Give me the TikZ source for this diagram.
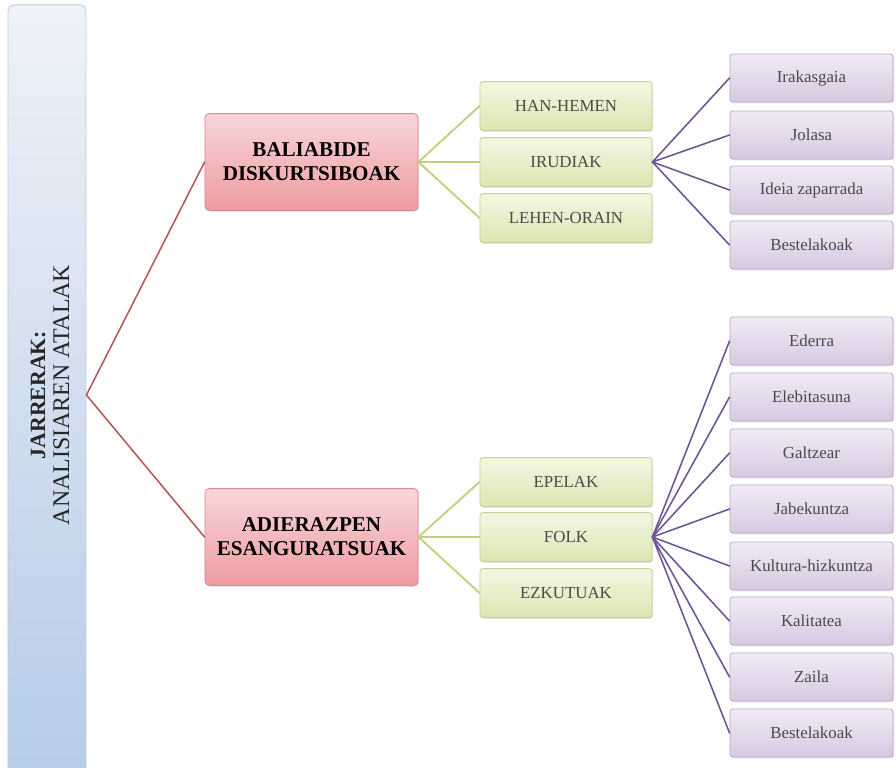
\documentclass[tikz,border=0pt]{standalone}
\usepackage{fontspec}
\setmainfont{Liberation Serif}
\usetikzlibrary{shadows}

\definecolor{barTop}{HTML}{EEF2F9}
\definecolor{barBot}{HTML}{B4CAE6}
\definecolor{barEdge}{HTML}{C4CCD8}
\definecolor{redTop}{HTML}{F8D6D8}
\definecolor{redBot}{HTML}{EE9CA2}
\definecolor{redEdge}{HTML}{D48E94}
\definecolor{redLine}{HTML}{B4585A}
\definecolor{grnTop}{HTML}{F3F7E2}
\definecolor{grnBot}{HTML}{DCE7B2}
\definecolor{grnEdge}{HTML}{C6D296}
\definecolor{grnLine}{HTML}{C4CE78}
\definecolor{prpTop}{HTML}{F1EBF5}
\definecolor{prpBot}{HTML}{D6C9E1}
\definecolor{prpEdge}{HTML}{B9AAC9}
\definecolor{prpLine}{HTML}{6E5492}
\definecolor{txtGray}{HTML}{4A4A4A}

\tikzset{
  boxshadow/.style={drop shadow={shadow xshift=0.8pt,shadow yshift=-1pt,opacity=0.22}},
  barbox/.style={draw=barEdge, line width=0.6pt, top color=barTop, bottom color=barBot,
    rounded corners=4pt, minimum width=1.95cm, minimum height=20cm},
  mainbox/.style={draw=redEdge, line width=0.6pt, top color=redTop, bottom color=redBot,
    rounded corners=3pt, minimum width=5.325cm, minimum height=2.42cm, align=center,
    font=\fontsize{15}{17}\selectfont\bfseries, boxshadow},
  subbox/.style={draw=grnEdge, line width=0.6pt, top color=grnTop, bottom color=grnBot,
    rounded corners=2pt, minimum width=4.3cm, minimum height=1.22cm,
    font=\fontsize{12}{14}\selectfont, text=txtGray, boxshadow},
  leafbox/.style={draw=prpEdge, line width=0.6pt, top color=prpTop, bottom color=prpBot,
    rounded corners=2pt, minimum width=4.075cm, minimum height=1.2cm,
    font=\fontsize{12}{14}\selectfont, text=txtGray, boxshadow},
  redline/.style={draw=redLine, line width=1.1pt},
  grnline/.style={draw=grnLine, line width=1.3pt},
  prpline/.style={draw=prpLine, line width=1.1pt}
}

\begin{document}
\begin{tikzpicture}[x=0.025cm,y=-0.025cm,line cap=round,line join=round]
  \useasboundingbox (0,0) rectangle (896,768);
  \fill[white] (0,0) rectangle (896,768);

  % left title bar
  \node[barbox] (bar) at (47,405) {};
  \node[rotate=90, align=center, inner sep=0pt, font=\fontsize{17}{17}\selectfont, text=black!85] (title) at (50,395)
    {\textbf{\fontsize{15.5}{17}\selectfont JARRERAK:}\\
     ANALISIAREN ATALAK};
  \coordinate (root) at (bar.east |- title.center);

  % main branches
  \node[mainbox] (bal) at (311.5,162) {BALIABIDE\\DISKURTSIBOAK};
  \node[mainbox] (adi) at (311.5,537) {ADIERAZPEN\\ESANGURATSUAK};
  \draw[redline] (root) -- (bal.west);
  \draw[redline] (root) -- (adi.west);

  % second level
  \foreach \n/\y/\t/\p in {hh/106/HAN-HEMEN/bal, iru/162/IRUDIAK/bal, lo/218/LEHEN-ORAIN/bal,
                          epe/482/EPELAK/adi, folk/537/FOLK/adi, ezk/593/EZKUTUAK/adi} {
    \node[subbox] (\n) at (566,\y) {\t};
    \draw[grnline] (\p.east) -- (\n.west);
  }

  % leaves
  \foreach \n/\y/\t in {p1/78/Irakasgaia, p2/135/Jolasa, p3/190/Ideia zaparrada, p4/245/Bestelakoak} {
    \node[leafbox] (\n) at (811.5,\y) {\t};
    \draw[prpline] (iru.east) -- (\n.west);
  }
  \foreach \n/\y/\t in {q1/341/Ederra, q2/397/Elebitasuna, q3/453/Galtzear, q4/509/Jabekuntza,
                       q5/566/Kultura-hizkuntza, q6/621/Kalitatea, q7/677/Zaila, q8/733/Bestelakoak} {
    \node[leafbox] (\n) at (811.5,\y) {\t};
    \draw[prpline] (folk.east) -- (\n.west);
  }
\end{tikzpicture}
\end{document}
